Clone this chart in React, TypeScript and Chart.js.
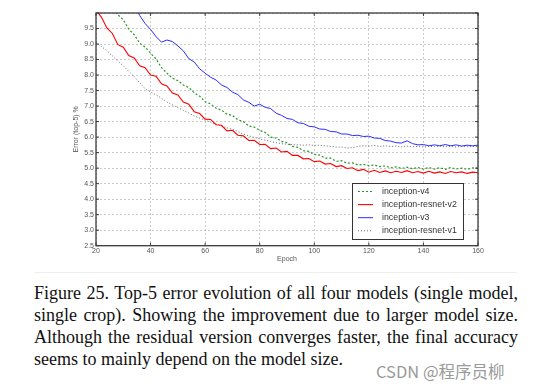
import React, { useEffect, useRef } from "react";
import { Chart, registerables } from "chart.js";

Chart.register(...registerables);

const epochs = [
  20, 22, 24, 26, 28, 30, 32, 34, 36, 38,
  40, 42, 44, 46, 48, 50, 52, 54, 56, 58,
  60, 62, 64, 66, 68, 70, 72, 74, 76, 78,
  80, 82, 84, 86, 88, 90, 92, 94, 96, 98,
  100, 102, 104, 106, 108, 110, 112, 114, 116, 118,
  120, 122, 124, 126, 128, 130, 132, 134, 136, 138,
  140, 142, 144, 146, 148, 150, 152, 154, 156, 158,
  160,
];

const inceptionV4 = [
  11.0, 10.7, 10.45, 10.2, 9.95, 9.78, 9.48, 9.3, 9.03, 8.9,
  8.7, 8.52, 8.24, 8.06, 7.9, 7.82, 7.68, 7.6, 7.43, 7.32,
  7.14, 7.07, 6.93, 6.87, 6.74, 6.7, 6.56, 6.5, 6.36, 6.32,
  6.22, 6.15, 6.0, 5.97, 5.86, 5.82, 5.7, 5.67, 5.56, 5.54,
  5.44, 5.42, 5.32, 5.32, 5.22, 5.24, 5.16, 5.17, 5.1, 5.12,
  5.08, 5.1, 5.05, 5.07, 5.01, 5.04, 4.99, 5.03, 4.98, 5.02,
  4.97, 5.02, 4.97, 5.01, 4.96, 5.02, 4.97, 5.0, 4.96, 5.01,
  4.99,
];

const inceptionResnetV2 = [
  10.1, 9.86, 9.52, 9.34, 8.98, 8.9, 8.63, 8.55, 8.3, 8.24,
  8.0, 7.96, 7.72, 7.65, 7.42, 7.36, 7.13, 7.06, 6.82, 6.76,
  6.58, 6.57, 6.4, 6.38, 6.2, 6.22, 6.06, 6.04, 5.89, 5.9,
  5.76, 5.77, 5.63, 5.65, 5.52, 5.54, 5.41, 5.41, 5.3, 5.31,
  5.21, 5.23, 5.13, 5.15, 5.05, 5.08, 4.99, 5.01, 4.92, 4.96,
  4.87, 4.93, 4.86, 4.91, 4.85, 4.9, 4.86, 4.92, 4.85, 4.89,
  4.84, 4.9, 4.84, 4.88, 4.83, 4.89, 4.85, 4.88, 4.83, 4.87,
  4.85,
];

const inceptionV3 = [
  12.4, 12.1, 11.8, 11.5, 11.2, 10.9, 10.6, 10.3, 9.92, 9.66,
  9.47, 9.24, 9.06, 9.13, 9.08, 8.94, 8.78, 8.53, 8.42, 8.2,
  8.06, 7.93, 7.84, 7.68, 7.6, 7.45, 7.37, 7.2, 7.12, 7.0,
  7.06, 6.96, 6.92, 6.77, 6.7, 6.6, 6.57, 6.46, 6.44, 6.35,
  6.33, 6.26, 6.25, 6.18, 6.17, 6.1, 6.1, 6.05, 6.06, 6.02,
  6.03, 5.97, 5.96, 5.89, 5.87, 5.82, 5.81, 5.88, 5.79, 5.75,
  5.76, 5.72, 5.75, 5.72, 5.76, 5.72, 5.75, 5.71, 5.74, 5.72,
  5.74,
];

const inceptionResnetV1 = [
  9.05, 8.92, 8.78, 8.62, 8.45, 8.3, 8.12, 7.95, 7.75, 7.56,
  7.45, 7.36, 7.25, 7.13, 7.04, 6.95, 6.86, 6.78, 6.68, 6.61,
  6.55, 6.48, 6.42, 6.35, 6.3, 6.25, 6.18, 6.1, 6.04, 5.99,
  5.94, 5.9, 5.86, 5.82, 5.79, 5.77, 5.76, 5.75, 5.74, 5.75,
  5.73, 5.74, 5.72, 5.7, 5.68, 5.68, 5.65, 5.66, 5.7, 5.72,
  5.71, 5.73, 5.7, 5.72, 5.7, 5.71, 5.69, 5.71, 5.69, 5.7,
  5.68, 5.7, 5.69, 5.71, 5.69, 5.7, 5.68, 5.7, 5.69, 5.7,
  5.69,
];

const seriesLabels = ["inception-v4", "inception-resnet-v2", "inception-v3", "inception-resnet-v1"];

const captionLines = [
  "Figure 25. Top-5 error evolution of all four models (single model,",
  "single crop). Showing the improvement due to larger model size.",
  "Although the residual version converges faster, the final accuracy",
  "seems to mainly depend on the model size.",
];

const FONT = '"Liberation Sans", Arial, sans-serif';

const framePlugin = {
  id: "frame",
  afterDatasetsDraw(chart: any) {
    const { ctx, chartArea, scales } = chart;
    const { left, right, top, bottom } = chartArea;
    ctx.save();
    ctx.strokeStyle = "#3a3a3a";
    ctx.lineWidth = 1.3;
    ctx.strokeRect(left, top, right - left, bottom - top);
    ctx.lineWidth = 1;
    ctx.beginPath();
    scales.x.ticks.forEach((t: any) => {
      const px = scales.x.getPixelForValue(t.value);
      ctx.moveTo(px, bottom);
      ctx.lineTo(px, bottom - 3);
      ctx.moveTo(px, top);
      ctx.lineTo(px, top + 3);
    });
    scales.y.ticks.forEach((t: any) => {
      const py = scales.y.getPixelForValue(t.value);
      ctx.moveTo(left, py);
      ctx.lineTo(left + 3, py);
      ctx.moveTo(right, py);
      ctx.lineTo(right - 3, py);
    });
    ctx.stroke();
    ctx.restore();
  },
};

const legendPlugin = {
  id: "boxLegend",
  afterDraw(chart: any) {
    const { ctx, chartArea } = chart;
    const w = 111;
    const h = 56;
    const x0 = Math.round(chartArea.right - 126);
    const y0 = Math.round(chartArea.bottom - 63);
    ctx.save();
    ctx.fillStyle = "#ffffff";
    ctx.fillRect(x0, y0, w, h);
    ctx.strokeStyle = "#333";
    ctx.lineWidth = 1;
    ctx.strokeRect(x0 + 0.5, y0 + 0.5, w, h);
    chart.data.datasets.forEach((ds: any, i: number) => {
      const y = y0 + 8.5 + i * 13.1;
      ctx.beginPath();
      ctx.setLineDash(ds.borderDash || []);
      ctx.strokeStyle = ds.borderColor;
      ctx.lineWidth = ds.borderWidth;
      ctx.moveTo(x0 + 6, y);
      ctx.lineTo(x0 + 21, y);
      ctx.stroke();
      ctx.setLineDash([]);
      ctx.fillStyle = "#333";
      ctx.font = `8.8px ${FONT}`;
      ctx.textBaseline = "middle";
      ctx.textAlign = "left";
      ctx.fillText(ds.label, x0 + 30, y);
    });
    ctx.restore();
  },
};

export default function App() {
  const canvasRef = useRef<HTMLCanvasElement | null>(null);

  useEffect(() => {
    if (!canvasRef.current) return;
    const mk = (vals: number[]) => epochs.map((e, i) => ({ x: e, y: vals[i] }));
    const chart = new Chart(canvasRef.current, {
      type: "line",
      data: {
        datasets: [
          {
            label: seriesLabels[0],
            data: mk(inceptionV4),
            borderColor: "#2a962a",
            borderWidth: 1.2,
            borderDash: [2, 2],
            pointRadius: 0,
            tension: 0,
          },
          {
            label: seriesLabels[1],
            data: mk(inceptionResnetV2),
            borderColor: "#ff0000",
            borderWidth: 1.1,
            pointRadius: 0,
            tension: 0,
          },
          {
            label: seriesLabels[2],
            data: mk(inceptionV3),
            borderColor: "#2b2bff",
            borderWidth: 1,
            pointRadius: 0,
            tension: 0,
          },
          {
            label: seriesLabels[3],
            data: mk(inceptionResnetV1),
            borderColor: "#666666",
            borderWidth: 1,
            borderDash: [1, 2],
            pointRadius: 0,
            tension: 0,
          },
        ],
      },
      options: {
        animation: false,
        responsive: false,
        maintainAspectRatio: false,
        layout: { padding: { left: 72, right: 56, top: 13, bottom: 7 } },
        plugins: { legend: { display: false }, tooltip: { enabled: false } },
        scales: {
          x: {
            type: "linear",
            min: 20,
            max: 160,
            afterFit: (s: any) => {
              s.height = 17.3;
            },
            ticks: {
              stepSize: 20,
              color: "#555",
              font: { family: FONT, size: 7 },
              padding: 1,
              maxRotation: 0,
            },
            grid: { color: "#bdbdbd", lineWidth: 0.8, drawTicks: false },
            border: { display: false, dash: [2, 2] },
            title: {
              display: true,
              text: "Epoch",
              color: "#555",
              font: { family: FONT, size: 7 },
              padding: 0,
            },
          },
          y: {
            min: 2.5,
            max: 10,
            afterFit: (s: any) => {
              s.width = 24;
            },
            ticks: {
              stepSize: 0.5,
              color: "#555",
              font: { family: FONT, size: 7 },
              padding: 2,
              callback: (v: any) => (Number(v) >= 9.99 ? "" : Number(v).toFixed(1)),
            },
            grid: { color: "#bdbdbd", lineWidth: 0.8, drawTicks: false },
            border: { display: false, dash: [2, 2] },
            title: {
              display: true,
              text: "Error (top-5) %",
              color: "#555",
              font: { family: FONT, size: 7 },
              padding: 0,
            },
          },
        },
      },
      plugins: [framePlugin, legendPlugin],
    } as any);
    return () => chart.destroy();
  }, []);

  return (
    <div
      style={{
        position: "absolute",
        left: 0,
        top: 0,
        width: 534,
        height: 389,
        background: "#ffffff",
        overflow: "hidden",
      }}
    >
      <canvas ref={canvasRef} width={534} height={270} style={{ position: "absolute", left: 0, top: 0, width: 534, height: 270 }} />
      <div
        style={{
          position: "absolute",
          left: 34,
          top: 272,
          width: 483,
          height: 1,
          background: "#eeeeee",
        }}
      />
      <div
        style={{
          position: "absolute",
          left: 34,
          top: 282,
          width: 484,
          fontFamily: '"Liberation Serif", "Times New Roman", serif',
          fontSize: 18,
          lineHeight: "22px",
          color: "#111",
        }}
      >
        {captionLines.map((line, i) => (
          <div
            key={i}
            style={{
              whiteSpace: "nowrap",
              textAlign: i < captionLines.length - 1 ? "justify" : "left",
              textAlignLast: i < captionLines.length - 1 ? "justify" : "left",
            } as any}
          >
            {line}
          </div>
        ))}
      </div>
      <div
        style={{
          position: "absolute",
          left: 376,
          top: 360,
          fontFamily: '"Noto Sans CJK SC", "Noto Sans", sans-serif',
          fontSize: 16.5,
          lineHeight: "22px",
          color: "#9a9a9a",
          whiteSpace: "nowrap",
        }}
      >
        CSDN @程序员柳
      </div>
    </div>
  );
}
